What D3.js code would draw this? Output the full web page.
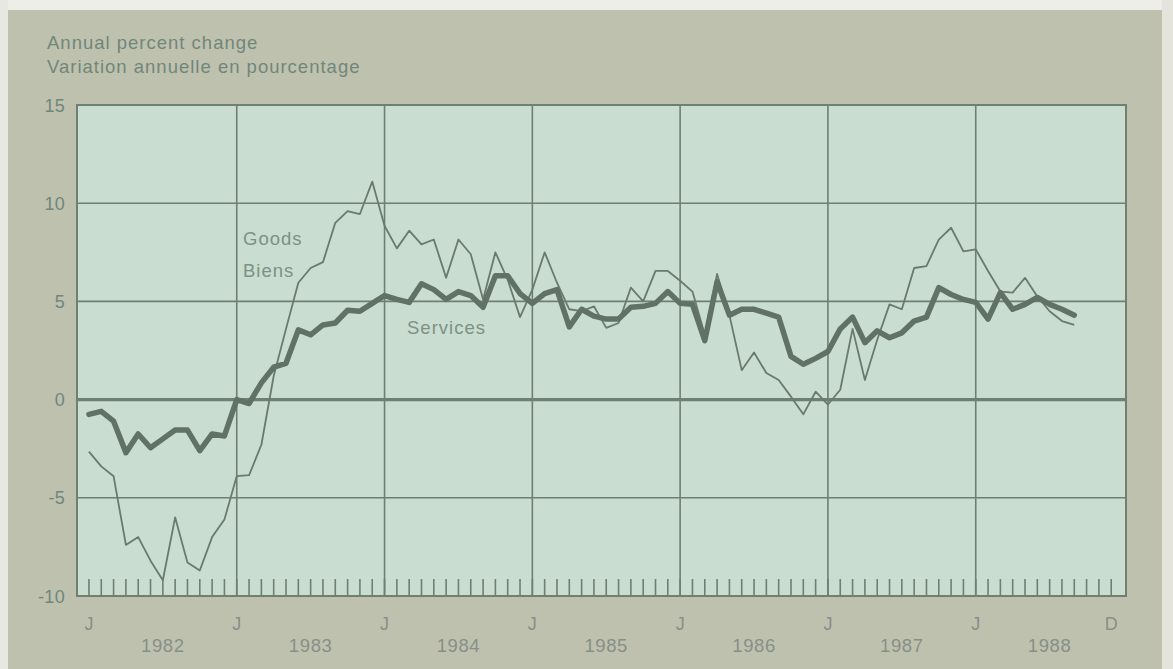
<!DOCTYPE html>
<html>
<head>
<meta charset="utf-8">
<script src="https://cdn.jsdelivr.net/npm/d3@7/dist/d3.min.js"></script>
<style>
  html, body { margin: 0; padding: 0; background: #bfc1af; }
  svg { display: block; }
  text { font-family: "Liberation Sans", Arial, Helvetica, sans-serif; }
</style>
</head>
<body>
<svg id="chart" width="1173" height="669"></svg>
<script>
// ---- Data (monthly, January 1982 onward; index 0 = Jan 1982) ----
const years = [1982, 1983, 1984, 1985, 1986, 1987, 1988];
const monthLetters = ["J", "J", "J", "J", "J", "J", "J", "D"];
const monthLetterIdx = [0, 12, 24, 36, 48, 60, 72, 83];
const yTicks = [-10, -5, 0, 5, 10, 15];
const titleLines = ["Annual percent change", "Variation annuelle en pourcentage"];

const services = [
  -0.75, -0.6, -1.1, -2.7, -1.75, -2.45, -2.0, -1.55, -1.55, -2.6, -1.75, -1.85,
   0.0, -0.2, 0.85, 1.65, 1.85, 3.55, 3.3, 3.8, 3.9, 4.55, 4.5, 4.9,
   5.3, 5.1, 4.95, 5.9, 5.6, 5.1, 5.5, 5.3, 4.7, 6.3, 6.3, 5.4,
   4.9, 5.4, 5.6, 3.7, 4.6, 4.25, 4.1, 4.1, 4.7, 4.75, 4.9, 5.5,
   4.9, 4.85, 3.0, 6.0, 4.3, 4.6, 4.6, 4.4, 4.2, 2.2, 1.8, 2.1,
   2.45, 3.6, 4.2, 2.9, 3.5, 3.15, 3.4, 4.0, 4.2, 5.7, 5.35, 5.1,
   4.95, 4.1, 5.45, 4.6, 4.85, 5.2, 4.85, 4.6, 4.3
];
const goods = [
  -2.65, -3.4, -3.9, -7.4, -7.0, -8.2, -9.2, -6.0, -8.3, -8.7, -7.0, -6.1,
  -3.9, -3.85, -2.3, 1.2, 3.6, 5.95, 6.7, 7.0, 9.0, 9.6, 9.45, 11.1,
   8.85, 7.7, 8.6, 7.9, 8.15, 6.2, 8.15, 7.4, 5.1, 7.5, 6.1, 4.2,
   5.6, 7.5, 5.95, 4.6, 4.5, 4.75, 3.65, 3.9, 5.7, 5.0, 6.55, 6.55,
   6.05, 5.5, 3.3, 6.4, 4.3, 1.5, 2.4, 1.35, 1.0, 0.15, -0.75, 0.4,
  -0.25, 0.5, 3.6, 1.0, 3.05, 4.85, 4.6, 6.7, 6.8, 8.15, 8.75, 7.55,
   7.65, 6.55, 5.5, 5.45, 6.2, 5.25, 4.5, 4.0, 3.8
];

// ---- Layout ----
const svg = d3.select("#chart");
const W = 1173, H = 669;
const plot = { left: 77, right: 1126, top: 105, bottom: 596 };

const textColor = "#71867a";
const lineColor = "#627165";
const gridColor = "#6f7f72";

// page background with light photographed edges
svg.append("rect").attr("x", 0).attr("y", 0).attr("width", W).attr("height", H).attr("fill", "#bfc1af");
svg.append("rect").attr("x", 0).attr("y", 0).attr("width", W).attr("height", 10).attr("fill", "#eeeee8");
svg.append("rect").attr("x", 1162).attr("y", 0).attr("width", 11).attr("height", H).attr("fill", "#e4e4dc");
svg.append("rect").attr("x", 0).attr("y", 0).attr("width", 8).attr("height", H).attr("fill", "#e8e8e2");

const x = d3.scaleLinear().domain([-0.97, 84.2]).range([plot.left, plot.right]);
const y = d3.scaleLinear().domain([-10, 15]).range([plot.bottom, plot.top]);

// plot background
svg.append("rect")
  .attr("x", plot.left).attr("y", plot.top)
  .attr("width", plot.right - plot.left).attr("height", plot.bottom - plot.top)
  .attr("fill", "#c9ddd0");

// title
svg.append("g").selectAll("text").data(titleLines).join("text")
  .attr("x", 47).attr("y", (d, i) => 49 + i * 24)
  .attr("font-size", 18.5).attr("letter-spacing", 1)
  .attr("fill", textColor).text(d => d);

// horizontal gridlines
svg.append("g").selectAll("line").data(yTicks.filter(v => v !== 15 && v !== -10)).join("line")
  .attr("x1", plot.left).attr("x2", plot.right)
  .attr("y1", d => y(d)).attr("y2", d => y(d))
  .attr("stroke", gridColor)
  .attr("stroke-width", d => d === 0 ? 3.2 : 1.6);

// vertical year lines
svg.append("g").selectAll("line").data(years.slice(1)).join("line")
  .attr("x1", (d, i) => x((i + 1) * 12)).attr("x2", (d, i) => x((i + 1) * 12))
  .attr("y1", plot.top).attr("y2", plot.bottom)
  .attr("stroke", gridColor).attr("stroke-width", 1.6);

// monthly ticks along bottom
const monthIdx = d3.range(0, years.length * 12);
svg.append("g").selectAll("line").data(monthIdx).join("line")
  .attr("x1", d => x(d)).attr("x2", d => x(d))
  .attr("y1", plot.bottom).attr("y2", plot.bottom - 17)
  .attr("stroke", gridColor).attr("stroke-width", 1.6);

// frame
svg.append("rect")
  .attr("x", plot.left).attr("y", plot.top)
  .attr("width", plot.right - plot.left).attr("height", plot.bottom - plot.top)
  .attr("fill", "none").attr("stroke", gridColor).attr("stroke-width", 2);

// y tick labels
svg.append("g").selectAll("text").data(yTicks).join("text")
  .attr("x", 65).attr("y", d => y(d) + 6.5)
  .attr("text-anchor", "end").attr("font-size", 18).attr("letter-spacing", 0.3)
  .attr("fill", textColor).text(d => d);

// month letters
svg.append("g").selectAll("text").data(monthLetters).join("text")
  .attr("x", (d, i) => x(monthLetterIdx[i])).attr("y", 630)
  .attr("text-anchor", "middle").attr("font-size", 18)
  .attr("fill", "#878f88").text(d => d);

// year labels
svg.append("g").selectAll("text").data(years).join("text")
  .attr("x", (d, i) => x(i * 12 + 6)).attr("y", 652)
  .attr("text-anchor", "middle").attr("font-size", 18.5).attr("letter-spacing", 0.6)
  .attr("fill", "#878f88").text(d => d);

// lines
const line = d3.line().x((d, i) => x(i)).y(d => y(d));
svg.append("path").datum(goods)
  .attr("d", line).attr("fill", "none")
  .attr("stroke", "#6a7a6d").attr("stroke-width", 1.8).attr("stroke-linejoin", "round");
svg.append("path").datum(services)
  .attr("d", line).attr("fill", "none")
  .attr("stroke", lineColor).attr("stroke-width", 5.5)
  .attr("stroke-linejoin", "round").attr("stroke-linecap", "round");

// series labels
const labels = [
  { t: "Goods", x: 243, y: 245 },
  { t: "Biens", x: 243, y: 277 },
  { t: "Services", x: 407, y: 334 }
];
svg.append("g").selectAll("text").data(labels).join("text")
  .attr("x", d => d.x).attr("y", d => d.y)
  .attr("font-size", 18.5).attr("letter-spacing", 1)
  .attr("fill", "#7e9184").text(d => d.t);
</script>
</body>
</html>
